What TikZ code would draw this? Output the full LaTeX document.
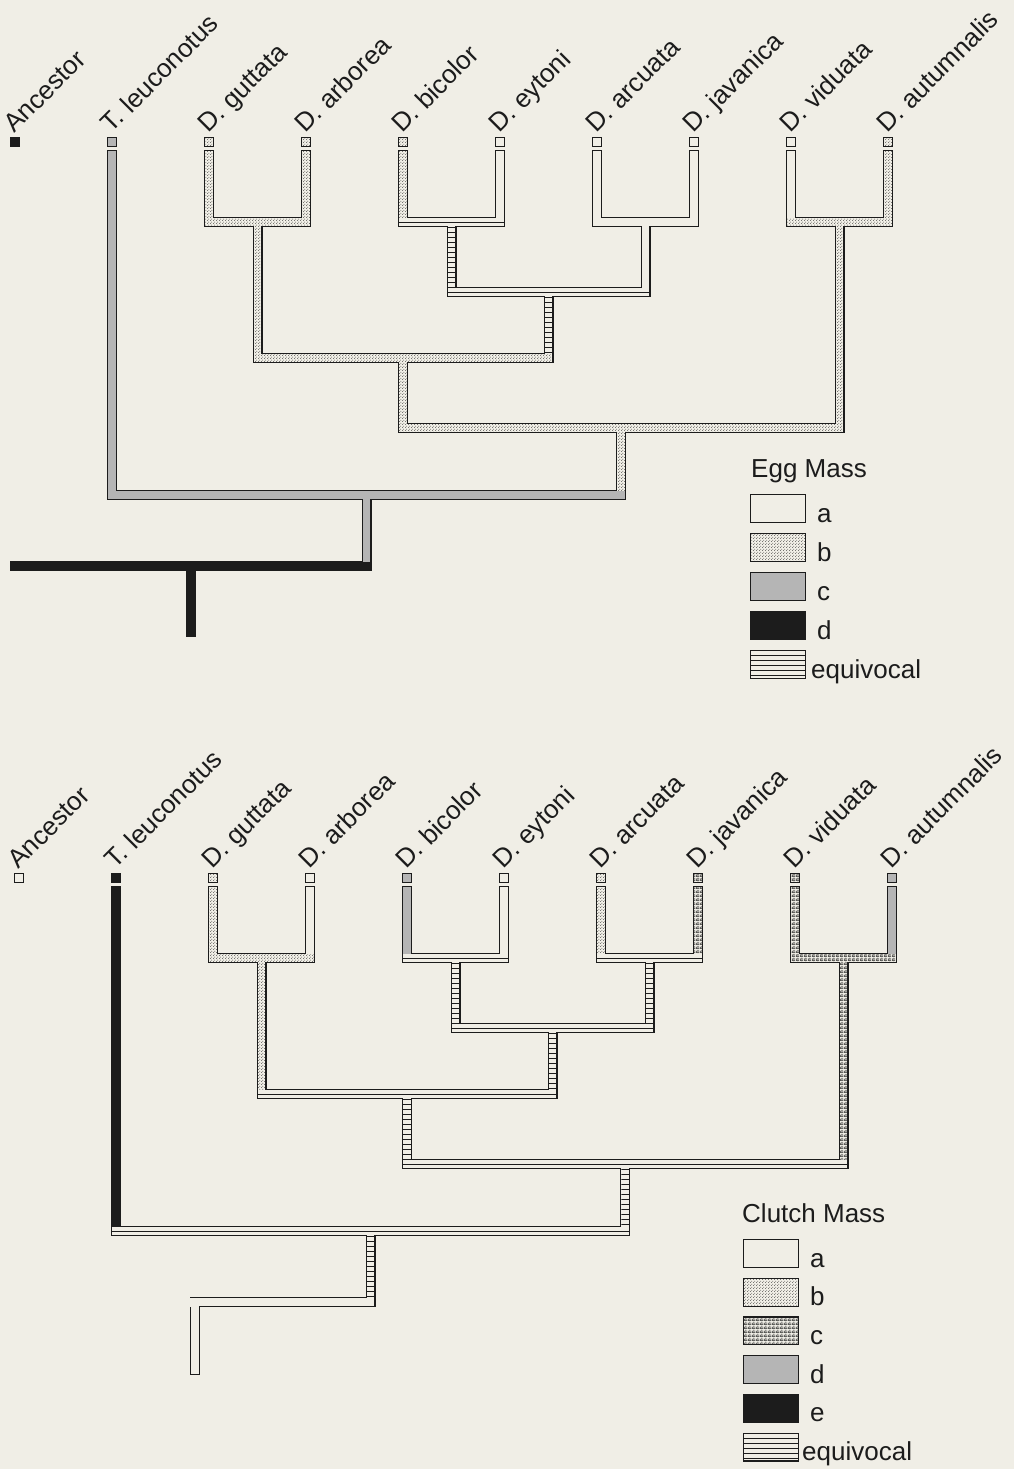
\documentclass[tikz,border=0pt]{standalone}
\usepackage{fontspec}
\setmainfont{Liberation Sans}
\usetikzlibrary{patterns.meta}
\definecolor{paper}{RGB}{240,238,230}
\definecolor{ink}{RGB}{28,28,28}
\tikzdeclarepattern{
  name=stip,
  type=uncolored,
  bounding box={(0pt,0pt) and (3pt,3pt)},
  tile size={(3pt,3pt)},
  code={
    \fill (0.75pt,0.75pt) circle [radius=0.5pt];
    \fill (2.25pt,2.25pt) circle [radius=0.5pt];
  }
}
\tikzdeclarepattern{
  name=brick,
  type=uncolored,
  bounding box={(0pt,0pt) and (4pt,4pt)},
  tile size={(4pt,4pt)},
  code={
    \fill (0pt,0pt) rectangle (4pt,0.7pt);
    \fill (0pt,2pt) rectangle (4pt,2.7pt);
    \fill (0pt,0.7pt) rectangle (0.7pt,2pt);
    \fill (2pt,2.7pt) rectangle (2.7pt,4pt);
  }
}
\tikzset{
  outl/.style={draw=ink, line width=2.4pt},
  eqline/.style={draw=ink, line width=0.9pt},
  stW/.style={fill=paper},
  stS/.style={preaction={fill=paper}, pattern=stip, pattern color=ink},
  stG/.style={fill=gray!58},
  stK/.style={fill=ink},
  stB/.style={preaction={fill=paper}, pattern=brick, pattern color=ink},
  stQ/.style={fill=paper, path picture={
      \coordinate (ppnw) at (path picture bounding box.north west);
      \coordinate (ppne) at (path picture bounding box.north east);
      \foreach \k in {0,5,...,80}{\draw[eqline] ([yshift=-\k pt]ppnw) -- ([yshift=-\k pt]ppne);}}},
  barW/.style={stW}, barS/.style={stS}, barG/.style={stG}, barK/.style={stK}, barB/.style={stB},
  barQ/.style={fill=paper, path picture={
      \draw[eqline] (path picture bounding box.west) -- (path picture bounding box.east);}},
  tipbox/.style={draw=ink, line width=1.1pt},
  legbox/.style={draw=ink, line width=1.2pt},
  lab/.style={rotate=45, anchor=base west, inner sep=0pt, text=ink, font=\fontsize{26}{31}\selectfont},
  legtxt/.style={anchor=base west, inner sep=0pt, text=ink, font=\fontsize{26}{31}\selectfont},
}
\newcommand\drawtree[2]{%
  \foreach \x/\ya/\yb/\s in {#1} {\draw[outl] (\x-3.8,\ya) rectangle (\x+3.8,\yb);}
  \foreach \xa/\xb/\y/\s in {#2} {\draw[outl] (\xa-3.8,\y-3.8) rectangle (\xb+3.8,\y+3.8);}
  \foreach \x/\ya/\yb/\s in {#1} {\path[st\s] (\x-3.8,\ya) rectangle (\x+3.8,\yb);}
  \foreach \xa/\xb/\y/\s in {#2} {\path[bar\s] (\xa-3.8,\y-3.8) rectangle (\xb+3.8,\y+3.8);}
}
\begin{document}
\begin{tikzpicture}[x=1pt,y=-1pt]
\fill[paper] (0,0) rectangle (1014,1469);
\useasboundingbox (0,0) rectangle (1014,1469);

% ---------------- Egg Mass tree ----------------
\drawtree{112/151.2/495/G, 209/151.2/222/S, 306/151.2/222/S, 403/151.2/222/S,
  500/151.2/222/W, 597/151.2/222/W, 694/151.2/222/W, 791/151.2/222/W, 888/151.2/222/S,
  257.5/222/358/S, 451.5/222/292/Q, 645.5/222/292/W, 839.5/222/428/S,
  548.5/292/358/Q, 403/358/428/S, 621.25/428/495/S, 366.6/495/566/G, 190.8/566/635.8/K}
 {209/306/222/S, 403/500/222/Q, 597/694/222/W, 791/888/222/S,
  451.5/645.5/292/Q, 257.5/548.5/358/S, 403/839.5/428/S, 112/621.25/495/G, 15/366.6/566/K}
\foreach \i/\x/\s in {0/15/K, 1/112/G, 2/209/S, 3/306/S, 4/403/S, 5/500/W, 6/597/W, 7/694/W, 8/791/W, 9/888/S}
  {\draw[tipbox, st\s] (\x-4.4,137.6) rectangle (\x+4.4,146.4);}
\foreach \i/\x/\t in {0/15/Ancestor, 1/112/T. leuconotus, 2/209/D. guttata, 3/306/D. arborea,
  4/403/D. bicolor, 5/500/D. eytoni, 6/597/D. arcuata, 7/694/D. javanica, 8/791/D. viduata, 9/888/D. autumnalis}
  {\node[lab] (ta\i) at (\x-0.5,134) {\t};}

% legend Egg Mass
\node[legtxt] (eggtitle) at (751,477) {Egg Mass};
\foreach \i/\T/\s/\l in {0/494/W/a, 1/533/S/b, 2/572/G/c, 3/611/K/d}
  {\draw[legbox, st\s] (750.6,\T+0.6) rectangle (805.4,\T+28.4);
   \node[legtxt] (egl\i) at (817,\T+28) {\l};}
\draw[legbox, stQ] (750.6,650.6) rectangle (805.4,678.4);
\node[legtxt] (egleq) at (811,678) {equivocal};

% ---------------- Clutch Mass tree ----------------
\begin{scope}[shift={(4,736)}]
\drawtree{112/151.2/495/K, 209/151.2/222/S, 306/151.2/222/W, 403/151.2/222/G,
  500/151.2/222/W, 597/151.2/222/S, 694/151.2/222/B, 791/151.2/222/B, 888/151.2/222/G,
  257.5/222/358/S, 451.5/222/292/Q, 645.5/222/292/Q, 839.5/222/428/B,
  548.5/292/358/Q, 403/358/428/Q, 621.25/428/495/Q, 366.6/495/566/Q, 190.8/566/637.8/W}
 {209/306/222/S, 403/500/222/Q, 597/694/222/Q, 791/888/222/B,
  451.5/645.5/292/Q, 257.5/548.5/358/Q, 403/839.5/428/Q, 112/621.25/495/Q, 190.8/366.6/566/W}
\fill[paper] (185,562.4) rectangle (187.2,570.8);
\foreach \i/\x/\s in {0/15/W, 1/112/K, 2/209/S, 3/306/W, 4/403/G, 5/500/W, 6/597/S, 7/694/B, 8/791/B, 9/888/G}
  {\draw[tipbox, st\s] (\x-4.4,137.6) rectangle (\x+4.4,146.4);}
\foreach \i/\x/\t in {0/15/Ancestor, 1/112/T. leuconotus, 2/209/D. guttata, 3/306/D. arborea,
  4/403/D. bicolor, 5/500/D. eytoni, 6/597/D. arcuata, 7/694/D. javanica, 8/791/D. viduata, 9/888/D. autumnalis}
  {\node[lab] (tb\i) at (\x-0.5,134) {\t};}
\end{scope}

% legend Clutch Mass
\node[legtxt] (cltitle) at (742,1222) {Clutch Mass};
\foreach \i/\T/\s/\l in {0/1239/W/a, 1/1277.7/S/b, 2/1316.4/B/c, 3/1355.1/G/d, 4/1393.8/K/e}
  {\draw[legbox, st\s] (743.6,\T+0.6) rectangle (798.4,\T+28.4);
   \node[legtxt] (cll\i) at (810,\T+28) {\l};}
\draw[legbox, stQ] (743.6,1433.1) rectangle (798.4,1460.9);
\node[legtxt] (clleq) at (802,1460.5) {equivocal};
\end{tikzpicture}
\end{document}
